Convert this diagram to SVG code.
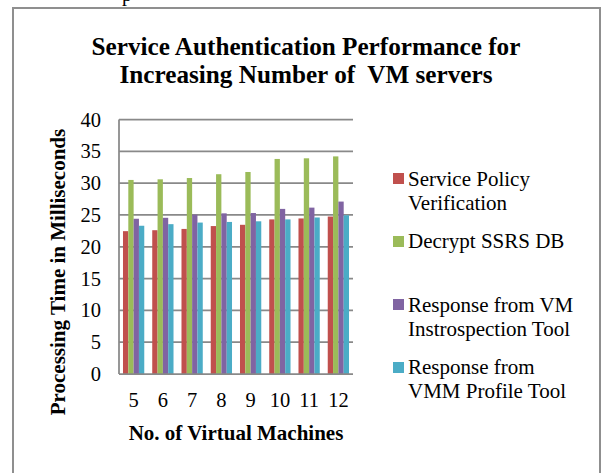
<svg xmlns="http://www.w3.org/2000/svg" width="602" height="473" viewBox="0 0 602 473">
  <style>
    text { font-family: "Liberation Serif", "Times New Roman", serif; fill: #000; }
    .title { font-size: 25.2px; font-weight: bold; text-anchor: middle; white-space: pre; }
    .axtitle { font-size: 21px; font-weight: bold; text-anchor: middle; }
    .tick { font-size: 20.5px; }
    .ylab { text-anchor: end; }
    .xlab { text-anchor: middle; }
    .leg { font-size: 21px; }
    .grid { stroke: #898989; stroke-width: 1.75; fill: none; }
    .frame { stroke: #8f8f8f; stroke-width: 2; fill: none; }
    .s1 { fill: #C0504D; }
    .s2 { fill: #9BBB59; }
    .s3 { fill: #8064A2; }
    .s4 { fill: #4BACC6; }
  </style>

  <rect width="602" height="473" fill="#fff"/>
  <!-- text fragment from the line above the chart -->
  <text x="122" y="1" style="font-size:20px">p</text>

  <!-- chart frame (open at the bottom) -->
  <path class="frame" d="M13,473 V8 H600 V473"/>

  <g id="title">
    <text class="title" x="306" y="55" xml:space="preserve">Service Authentication Performance for</text>
    <text class="title" x="306" y="83" xml:space="preserve">Increasing Number of  VM servers</text>
  </g>

  <!-- gridlines and axes -->
  <g id="grid">
    <line class="grid" x1="119" y1="119.5" x2="353" y2="119.5"/>
    <line class="grid" x1="119" y1="151.31" x2="353" y2="151.31"/>
    <line class="grid" x1="119" y1="183.13" x2="353" y2="183.13"/>
    <line class="grid" x1="119" y1="214.94" x2="353" y2="214.94"/>
    <line class="grid" x1="119" y1="246.75" x2="353" y2="246.75"/>
    <line class="grid" x1="119" y1="278.56" x2="353" y2="278.56"/>
    <line class="grid" x1="119" y1="310.38" x2="353" y2="310.38"/>
    <line class="grid" x1="119" y1="342.19" x2="353" y2="342.19"/>
    <line class="grid" x1="119" y1="119.5" x2="119" y2="374"/>
  </g>

  <g id="y-labels" class="tick ylab">
    <text x="101" y="126.5">40</text>
    <text x="101" y="158.3">35</text>
    <text x="101" y="190.1">30</text>
    <text x="101" y="221.9">25</text>
    <text x="101" y="253.8">20</text>
    <text x="101" y="285.6">15</text>
    <text x="101" y="317.4">10</text>
    <text x="101" y="349.2">5</text>
    <text x="101" y="381">0</text>
  </g>

  <!-- bars: series 1 Service Policy Verification -->
  <g id="series-policy" class="s1">
    <rect x="122.99" y="231.16" width="5.32" height="142.84"/>
    <rect x="152.24" y="230.21" width="5.32" height="143.79"/>
    <rect x="181.49" y="228.93" width="5.32" height="145.07"/>
    <rect x="210.74" y="226.07" width="5.32" height="147.93"/>
    <rect x="239.99" y="224.80" width="5.32" height="149.20"/>
    <rect x="269.24" y="219.39" width="5.32" height="154.61"/>
    <rect x="298.49" y="218.44" width="5.32" height="155.56"/>
    <rect x="327.74" y="216.53" width="5.32" height="157.47"/>
  </g>
  <!-- series 2 Decrypt SSRS DB -->
  <g id="series-decrypt" class="s2">
    <rect x="128.31" y="179.94" width="5.32" height="194.06"/>
    <rect x="157.56" y="179.31" width="5.32" height="194.69"/>
    <rect x="186.81" y="178.03" width="5.32" height="195.97"/>
    <rect x="216.06" y="174.22" width="5.32" height="199.78"/>
    <rect x="245.31" y="171.99" width="5.32" height="202.01"/>
    <rect x="274.56" y="158.95" width="5.32" height="215.05"/>
    <rect x="303.81" y="158.31" width="5.32" height="215.69"/>
    <rect x="333.06" y="156.40" width="5.32" height="217.60"/>
  </g>
  <!-- series 3 Response from VM Instrospection Tool -->
  <g id="series-introspection" class="s3">
    <rect x="133.63" y="218.75" width="5.32" height="155.25"/>
    <rect x="162.88" y="217.80" width="5.32" height="156.20"/>
    <rect x="192.13" y="214.62" width="5.32" height="159.38"/>
    <rect x="221.38" y="213.35" width="5.32" height="160.65"/>
    <rect x="250.63" y="213.03" width="5.32" height="160.97"/>
    <rect x="279.88" y="208.89" width="5.32" height="165.11"/>
    <rect x="309.13" y="207.62" width="5.32" height="166.38"/>
    <rect x="338.38" y="201.58" width="5.32" height="172.42"/>
  </g>
  <!-- series 4 Response from VMM Profile Tool -->
  <g id="series-profile" class="s4">
    <rect x="138.94" y="225.75" width="5.32" height="148.25"/>
    <rect x="168.19" y="224.16" width="5.32" height="149.84"/>
    <rect x="197.44" y="222.57" width="5.32" height="151.43"/>
    <rect x="226.69" y="221.94" width="5.32" height="152.06"/>
    <rect x="255.94" y="221.30" width="5.32" height="152.70"/>
    <rect x="285.19" y="219.39" width="5.32" height="154.61"/>
    <rect x="314.44" y="217.48" width="5.32" height="156.52"/>
    <rect x="343.69" y="215.26" width="5.32" height="158.74"/>
  </g>

  <line id="x-axis" class="grid" x1="119" y1="374" x2="353" y2="374"/>

  <g id="x-labels" class="tick xlab">
    <text x="133.6" y="407">5</text>
    <text x="162.9" y="407">6</text>
    <text x="192.1" y="407">7</text>
    <text x="221.4" y="407">8</text>
    <text x="250.6" y="407">9</text>
    <text x="279.9" y="407">10</text>
    <text x="309.1" y="407">11</text>
    <text x="338.4" y="407">12</text>
  </g>

  <text id="x-title" class="axtitle" x="236" y="440">No. of Virtual Machines</text>
  <text id="y-title" class="axtitle" transform="translate(65,272) rotate(-90)">Processing Time in Milliseconds</text>

  <g id="legend" class="leg">
    <g id="legend-policy">
      <rect class="s1" x="393" y="173" width="11" height="11"/>
      <text x="408" y="186">Service Policy</text>
      <text x="408" y="209.5">Verification</text>
    </g>
    <g id="legend-decrypt">
      <rect class="s2" x="393" y="236" width="11" height="11"/>
      <text x="408" y="248">Decrypt SSRS DB</text>
    </g>
    <g id="legend-introspection">
      <rect class="s3" x="393" y="299" width="11" height="11"/>
      <text x="408" y="312">Response from VM</text>
      <text x="408" y="335.5">Instrospection Tool</text>
    </g>
    <g id="legend-profile">
      <rect class="s4" x="393" y="362" width="11" height="11"/>
      <text x="408" y="374">Response from</text>
      <text x="408" y="397.5">VMM Profile Tool</text>
    </g>
  </g>
</svg>
